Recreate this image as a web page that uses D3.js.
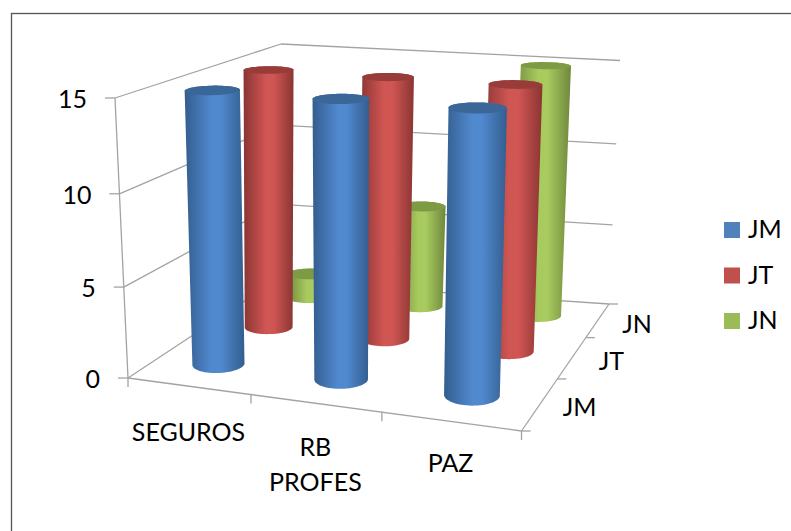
<!DOCTYPE html>
<html>
<head>
<meta charset="utf-8">
<script src="https://d3js.org/d3.v7.min.js"></script>
<style>
  html, body { margin: 0; padding: 0; background: #fff; }
  svg { display: block; }
  text { font-family: Lato, "Open Sans", sans-serif; font-size: 25px; fill: #000; }
</style>
</head>
<body>
<script>
var categories = ["SEGUROS", "RB PROFES", "PAZ"];
var depthLabels = ["JM", "JT", "JN"];
var yTicks = [0, 5, 10, 15];
var valuesJM = [15, 15, 15];
var valuesJT = [15, 15, 15];
var valuesJN = [1.5, 6.2, 15];
var colors = {
  JM: { swatch: "#4f81bd", edge: "#335d8e", mid: "#5189cf", top: "#3a6698" },
  JT: { swatch: "#c0504d", edge: "#8a3533", mid: "#d05653", top: "#983c3a" },
  JN: { swatch: "#9bbb59", edge: "#6f873c", mid: "#a8cb5f", top: "#7e9a45" }
};

var width = 791, height = 531;
var svg = d3.select("body").append("svg").attr("width", width).attr("height", height);

// box corners on screen: f/b front/back, l/r left/right, 0 floor, 1 top
var corners = {
  fl0: [128, 378], fr0: [521.5, 431], bl0: [275, 281], br0: [609, 304],
  fl1: [115, 98], fr1: [530, 127], bl1: [281, 44], br1: [620, 60.5]
};

// perspective spacing along each axis
function warp(k) { return function (t) { return t / (t + k * (1 - t)); }; }
var warpX = warp(1.1), warpY = warp(1.04), warpZ = warp(0.72);

var xBand = d3.scaleBand().domain(categories).range([0, 1]);
var zBand = d3.scaleBand().domain(depthLabels).range([0, 1]);
var yVal = d3.scaleLinear().domain([0, 15]).range([0, 1]);

function project(tx, v, tz) {
  var a = warpX(tx), b = warpY(yVal(v)), c = warpZ(tz);
  function mix(p, q, t) { return [p[0] + (q[0] - p[0]) * t, p[1] + (q[1] - p[1]) * t]; }
  var f0 = mix(corners.fl0, corners.fr0, a), b0 = mix(corners.bl0, corners.br0, a);
  var f1 = mix(corners.fl1, corners.fr1, a), b1 = mix(corners.bl1, corners.br1, a);
  return mix(mix(f0, b0, c), mix(f1, b1, c), b);
}

// gradients for the cylinder sides
var defs = svg.append("defs");
depthLabels.forEach(function (s) {
  var g = defs.append("linearGradient").attr("id", "grad" + s);
  [[0, colors[s].edge], [0.45, colors[s].mid], [0.6, colors[s].mid], [1, colors[s].edge]].forEach(function (d) {
    g.append("stop").attr("offset", d[0]).attr("stop-color", d[1]);
  });
});

// chart frame, runs off the right and bottom of the picture
svg.append("rect").attr("x", 11.5).attr("y", 13.5).attr("width", 800).attr("height", 540)
  .attr("fill", "none").attr("stroke", "#555").attr("stroke-width", 1.3);

var axes = svg.append("g").attr("fill", "none").attr("stroke", "#a3a3a3").attr("stroke-width", 1.3);
function seg(p, q) {
  axes.append("path").attr("d", d3.line()([p, q]));
}
function off(p, dx, dy) { return [p[0] + dx, p[1] + dy]; }

// walls and gridlines
yTicks.forEach(function (v) {
  seg(project(0, v, 0), project(0, v, 1));
  seg(project(0, v, 1), project(1, v, 1));
  var p = project(0, v, 0);
  seg(p, off(p, -10, 0));
  svg.append("text").attr("x", p[0] - 28).attr("y", p[1] + 10).attr("text-anchor", "end").text(v);
});
seg(project(0, 0, 0), project(0, 15, 0));

// floor front edge and depth edge
seg(project(0, 0, 0), project(1, 0, 0));
seg(project(1, 0, 0), project(1, 0, 1));
[0, 1, 2, 3].forEach(function (i) {
  var p = project(i / 3, 0, 0);
  seg(p, off(p, 0, 9));
  var q = project(1, 0, i / 3);
  seg(q, off(q, 9, 0));
});

// cylinders, back row first
var radius = 0.066;
var series = [["JN", valuesJN], ["JT", valuesJT], ["JM", valuesJM]];
var circle = d3.range(64).map(function (i) { return i / 64 * 2 * Math.PI; });
series.forEach(function (row) {
  var name = row[0];
  var cz = zBand(name) + zBand.bandwidth() / 2;
  categories.forEach(function (cat, i) {
    var cx = xBand(cat) + xBand.bandwidth() / 2;
    function ring(v) {
      return circle.map(function (a) {
        return project(cx + radius * Math.cos(a), v, cz + radius * Math.sin(a));
      });
    }
    var top = ring(row[1][i]), bottom = ring(0);
    svg.append("path")
      .attr("d", "M" + d3.polygonHull(top.concat(bottom)).join("L") + "Z")
      .attr("fill", "url(#grad" + name + ")");
    svg.append("path")
      .attr("d", "M" + top.join("L") + "Z")
      .attr("fill", colors[name].top);
  });
});

// category labels
categories.forEach(function (cat) {
  var p = project(xBand(cat) + xBand.bandwidth() / 2, 0, 0);
  var t = svg.append("text").attr("text-anchor", "middle");
  var y = p[1] + 55 - (p[0] - 188) * 0.016;
  cat.split(" ").forEach(function (w, i) {
    t.append("tspan").attr("x", p[0]).attr("y", y + i * 35).text(w);
  });
});

// depth labels
depthLabels.forEach(function (d) {
  var p = project(1, 0, zBand(d) + zBand.bandwidth() / 2);
  svg.append("text").attr("x", p[0] + 39).attr("y", p[1] + 13).attr("text-anchor", "middle").text(d);
});

// legend
var legend = svg.append("g").selectAll("g").data(depthLabels).enter().append("g")
  .attr("transform", function (d, i) { return "translate(724," + (222 + i * 45.5) + ")"; });
legend.append("rect").attr("width", 16).attr("height", 16).attr("fill", function (d) { return colors[d].swatch; });
legend.append("text").attr("x", 24).attr("y", 16).text(function (d) { return d; });
</script>
</body>
</html>
